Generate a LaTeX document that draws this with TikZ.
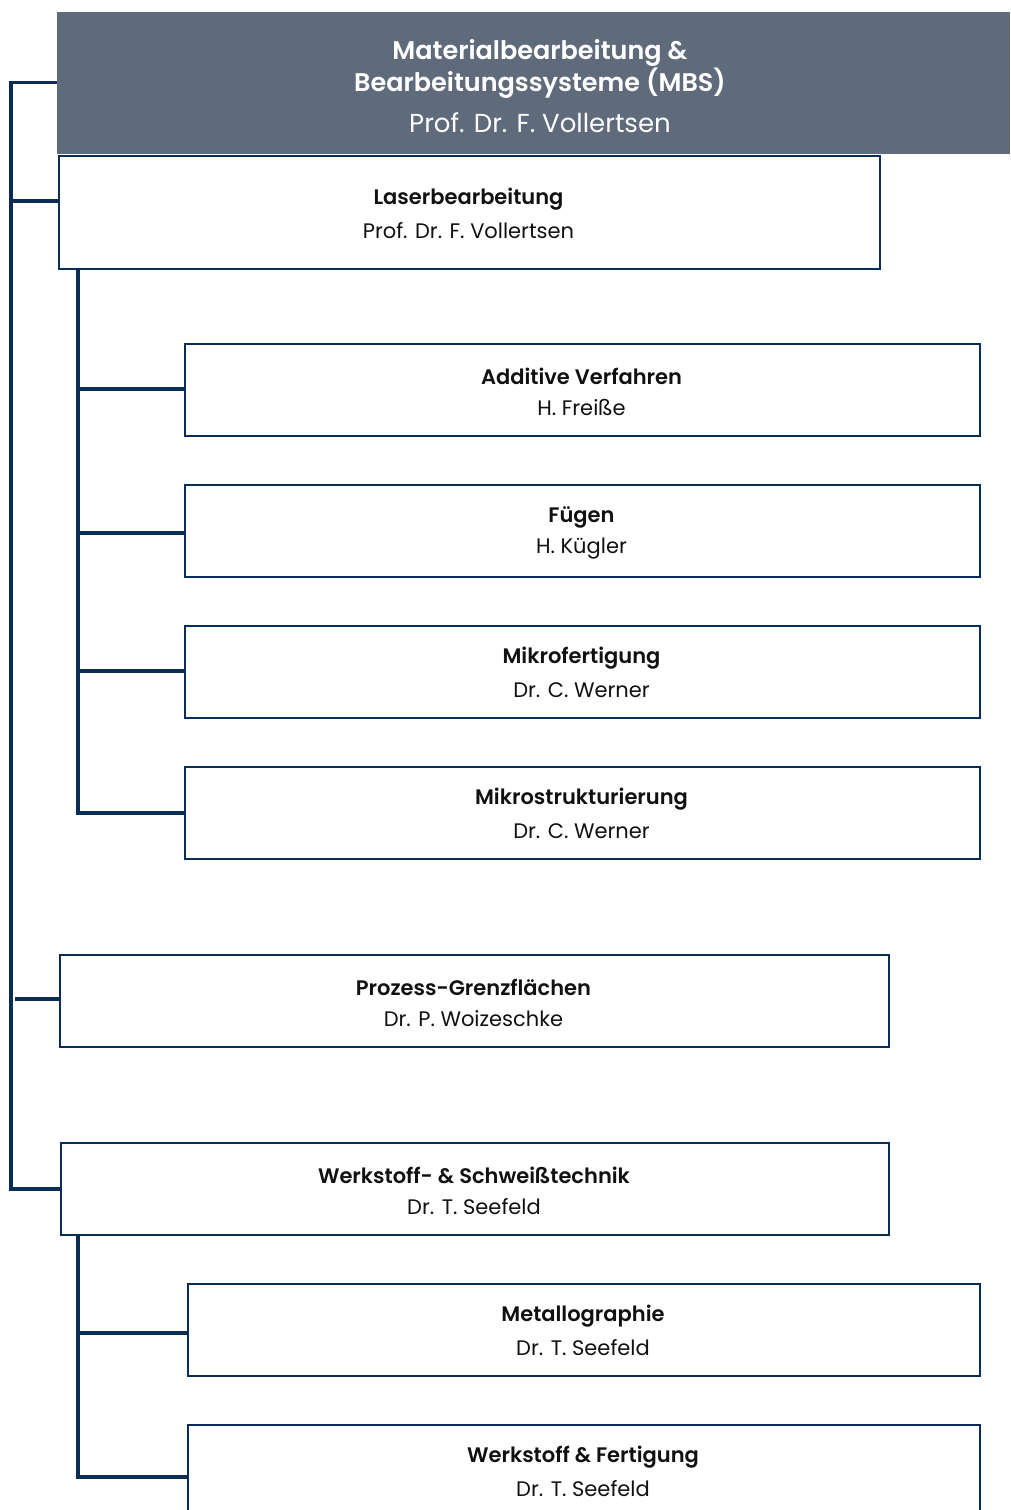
\documentclass[tikz,border=0pt]{standalone}
\usepackage{fontspec}
\setmainfont{Poppins}[BoldFont={Poppins SemiBold}]
\definecolor{navy}{HTML}{0B2D55}
\definecolor{hdrgray}{HTML}{5F6B7B}
\definecolor{txt}{HTML}{111111}
\begin{document}
\begin{tikzpicture}[x=1pt,y=-1pt,
  box/.style={draw=navy,line width=1.8pt,fill=white,rectangle,anchor=north west,inner sep=0pt},
  conn/.style={draw=navy,line width=3.2pt},
]
\useasboundingbox (0,0) rectangle (1010,1510);
\clip (0,0) rectangle (1010,1510);
\newcommand{\bx}[8]{% name, x1,y1,x2,y2, title, person, text offset
  \node[box,minimum width={#4-#2},minimum height={#5-#3}] (#1) at (#2,#3) {};
  \node[text=txt,font=\fontsize{21}{32}\selectfont\bfseries] (#1t) at ({(#2+#4)/2},{#3+#8}) {#6};
  \node[text=txt,font=\fontsize{21}{32}\selectfont] (#1p) at ({(#2+#4)/2},{#3+#8+32}) {#7};
}
% header
\node[fill=hdrgray,anchor=north west,minimum width=953,minimum height=142,inner sep=0pt] (hdr) at (57,12) {};
\node[text=white,font=\fontsize{25.5}{32}\selectfont\bfseries,align=center] (hdrt) at (540,69) {Materialbearbeitung \&\\Bearbeitungssysteme (MBS)};
\node[text=white,font=\fontsize{26}{32}\selectfont] (hdrp) at (540,123) {Prof. Dr. F. Vollertsen};
% boxes
\bx{laser}{58}{155}{879}{268}{Laserbearbeitung}{Prof. Dr. F. Vollertsen}{44}
\bx{add}{184}{343}{979}{435}{Additive Verfahren}{H. Freiße}{33}
\bx{fue}{184}{484}{979}{576}{Fügen}{H. Kügler}{33}
\bx{mfer}{184}{625}{979}{717}{Mikrofertigung}{Dr. C. Werner}{33}
\bx{mstr}{184}{766}{979}{858}{Mikrostrukturierung}{Dr. C. Werner}{33}
\bx{proz}{59}{954}{888}{1046}{Prozess-Grenzflächen}{Dr. P. Woizeschke}{33}
\bx{werk}{60}{1142}{888}{1234}{Werkstoff- \& Schweißtechnik}{Dr. T. Seefeld}{33}
\bx{met}{187}{1283}{979}{1375}{Metallographie}{Dr. T. Seefeld}{33}
\bx{wf}{187}{1424}{979}{1530}{Werkstoff \& Fertigung}{Dr. T. Seefeld}{33}
% spines
\coordinate (sp) at (11,0);
\coordinate (sub) at (78,0);
\coordinate (hb) at ([yshift=1pt]hdr.west);
\coordinate (lb) at ([yshift=11.5pt]laser.west);
\coordinate (pb) at ([yshift=2pt]proz.west);
\coordinate (ab) at ([yshift=1pt]add.west);
\coordinate (fb) at ([yshift=-2pt]fue.west);
\coordinate (mb) at ([yshift=1pt]mfer.west);
\coordinate (wb) at ([yshift=1pt]wf.west);
\coordinate (eb) at ([yshift=-3pt]met.west);
\draw[conn] (hb) -| (sp |- werk.west) -- (werk.west);
\draw[conn] (lb) -- (sp |- lb);
\draw[conn] ([xshift=-44pt]pb) -- (pb);
% sub spine 1
\draw[conn] (sub |- laser.south) |- (mstr.west);
\draw[conn] (sub |- ab) -- (ab);
\draw[conn] (sub |- fb) -- (fb);
\draw[conn] (sub |- mb) -- (mb);
% sub spine 2
\draw[conn] (sub |- werk.south) |- (wb);
\draw[conn] (sub |- eb) -- (eb);
\end{tikzpicture}
\end{document}
